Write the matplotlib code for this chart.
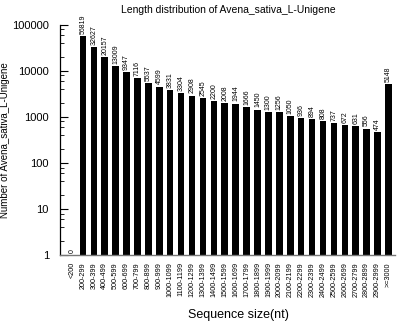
import matplotlib
matplotlib.use("Agg")
import matplotlib.pyplot as plt
from matplotlib.ticker import LogLocator, NullFormatter

plt.rcParams['font.family'] = ['Liberation Sans', 'DejaVu Sans']

# length bins and unigene counts
bins = ['<200'] + [f'{s}-{s + 99}' for s in range(200, 3000, 100)] + ['>=3000']
counts = [0, 56819, 32627, 20157, 13009, 9347, 7116, 5537, 4599, 3831,
          3304, 2908, 2545, 2200, 2008, 1944, 1666, 1450, 1300, 1256,
          1050, 936, 894, 808, 737, 672, 631, 556, 474, 5148]

fig = plt.figure(figsize=(4.0, 3.27), dpi=100)
ax = fig.add_axes([0.15, 0.22, 0.8375, 0.7035])

x = list(range(len(bins)))
ax.bar(x, counts, width=0.6, color='black')

for xi, v in zip(x, counts):
    ax.text(xi, max(v, 1) * 1.12, str(v), rotation=90, ha='center', va='bottom',
            fontsize=5)

ax.set_yscale('log')
ax.set_ylim(1, 100000)
ax.set_xlim(-1.1, 29.6)
ax.yaxis.set_minor_locator(LogLocator(base=10, subs=(2, 4, 6, 8), numticks=10))
ax.yaxis.set_minor_formatter(NullFormatter())
ax.set_yticks([1, 10, 100, 1000, 10000, 100000])
ax.set_yticklabels(['1', '10', '100', '1000', '10000', '100000'])
ax.tick_params(axis='y', which='major', direction='in', length=6, width=0.8,
               labelsize=8, pad=8)
ax.tick_params(axis='y', which='minor', direction='in', length=3, width=0.6)

ax.set_xticks(x)
ax.set_xticklabels(bins, rotation=90, fontsize=5.2)
ax.tick_params(axis='x', length=0, pad=5)

for side in ('top', 'right'):
    ax.spines[side].set_visible(False)
ax.spines['left'].set_linewidth(0.9)
ax.spines['bottom'].set_color('#777777')
ax.spines['bottom'].set_linewidth(1.0)

ax.set_ylabel('Number of Avena_sativa_L-Unigene', fontsize=7)
ax.yaxis.set_label_coords(-0.15, 0.5)
fig.text(0.595, 0.018, 'Sequence size(nt)', ha='center', va='bottom', fontsize=9)
fig.text(0.57, 0.985, 'Length distribution of Avena_sativa_L-Unigene',
         ha='center', va='top', fontsize=7.5)

fig.savefig('out.png', dpi=100)
